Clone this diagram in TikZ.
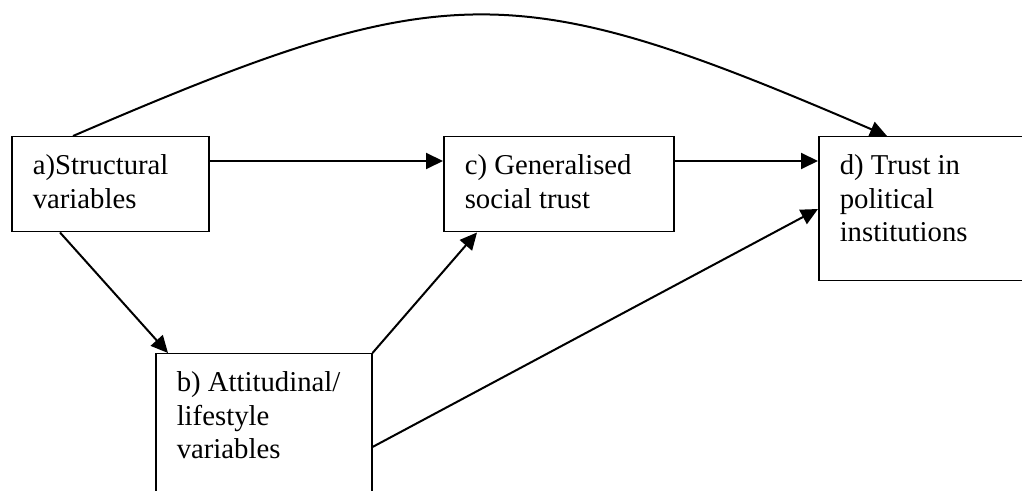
\documentclass[tikz,border=0pt]{standalone}
\usepackage{fontspec}
\setmainfont{Liberation Serif}
\usetikzlibrary{arrows.meta}
\newcommand{\boxlines}[3]{\parbox[t][#2][t]{#1}{\raggedright\strut #3}}

\begin{document}
\begin{tikzpicture}[x=0.4pt, y=-0.4pt,
  factor/.style={draw, line width=0.6pt, anchor=north west, inner xsep=8.4pt, inner ysep=5.8pt, font=\fontsize{11.5}{13.4}\selectfont},
  link/.style={-{Triangle[length=6.8pt,width=6.4pt]}, line width=0.8pt}]
\useasboundingbox (0,0) rectangle (1022,491);
\clip (0,0) rectangle (1022,491);
\node[factor] (a) at (11,136) {\boxlines{62pt}{26.4pt}{a)Structural\\variables}};
\node[factor] (c) at (443,136) {\boxlines{75.2pt}{26.4pt}{c) Generalised\\social trust}};
\node[factor] (d) at (818,136) {\boxlines{72pt}{46pt}{d) Trust in\\political\\institutions}};
\node[factor] (b) at (155,353) {\boxlines{69.6pt}{47.2pt}{b) Attitudinal/\\lifestyle\\variables}};
\draw[link] ([yshift=-10pt]a.north east) -- ([yshift=-10pt]c.north west);
\draw[link] ([yshift=-10pt]c.north east) -- ([yshift=-10pt]d.north west);
\draw[link] ([xshift=19.6pt]a.south west) -- ([xshift=5.2pt]b.north west);
\draw[link] (b.north east) -- ([xshift=13.6pt]c.south west);
\draw[link] ([yshift=-37.6pt]b.north east) -- ([yshift=-29.2pt]d.north west);
\draw[link] ([xshift=24.8pt]a.north west) .. controls (447,-25) and (513,-25) .. ([xshift=27.6pt]d.north west);
\end{tikzpicture}
\end{document}
